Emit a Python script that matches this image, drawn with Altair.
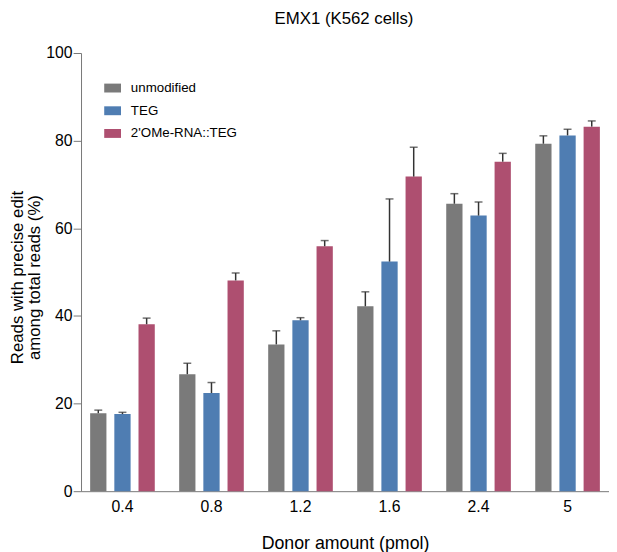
import altair as alt
import pandas as pd

doses = ["0.4", "0.8", "1.2", "1.6", "2.4", "5"]
groups = ["unmodified", "TEG", "2'OMe-RNA::TEG"]
colors = ["#7a7a7a", "#4f7db2", "#ae4f70"]

unmod_mean = [17.8, 26.7, 33.5, 42.2, 65.6, 79.3]
unmod_sd = [0.7, 2.5, 3.1, 3.3, 2.3, 1.8]
teg_mean = [17.6, 22.4, 39.0, 52.4, 62.9, 81.2]
teg_sd = [0.4, 2.4, 0.6, 14.3, 3.1, 1.4]
ome_mean = [38.1, 48.1, 55.9, 71.8, 75.2, 83.2]
ome_sd = [1.4, 1.7, 1.3, 6.7, 1.9, 1.3]

rows = []
for g, means, sds in zip(groups, [unmod_mean, teg_mean, ome_mean], [unmod_sd, teg_sd, ome_sd]):
    for d, m, s in zip(doses, means, sds):
        rows.append({"dose": d, "group": g, "mean": m, "sd": s})
df = pd.DataFrame(rows)

FONT = "Liberation Sans"

base = alt.Chart(df).transform_calculate(
    upper="datum.mean + datum.sd"
).encode(
    x=alt.X(
        "dose:N",
        sort=doses,
        scale=alt.Scale(paddingInner=0.274, paddingOuter=0.1025),
        axis=alt.Axis(
            title="Donor amount (pmol)",
            labelAngle=0,
            ticks=False,
            labelFontSize=16,
            labelPadding=8,
            labelColor="#000000",
            titleFontSize=18,
            titleFontWeight="normal",
            titleColor="#000000",
            titlePadding=20,
            domainColor="#777777",
            domainWidth=1,
        ),
    ),
    xOffset=alt.XOffset("group:N", sort=groups, scale=alt.Scale(paddingInner=0.327, paddingOuter=0)),
)

bars = base.mark_bar().encode(
    y=alt.Y(
        "mean:Q",
        scale=alt.Scale(domain=[0, 100]),
        axis=alt.Axis(
            title=["Reads with precise edit", "among total reads (%)"],
            values=[0, 20, 40, 60, 80, 100],
            grid=False,
            tickSize=8,
            tickColor="#777777",
            domainColor="#777777",
            labelFontSize=16,
            labelPadding=1,
            labelColor="#000000",
            titleFontSize=17,
            titleFontWeight="normal",
            titleColor="#000000",
            titleLineHeight=17,
            titleX=-72,
            titleY=227,
            titleBaseline="top",
            titleAlign="center",
        ),
    ),
    color=alt.Color(
        "group:N",
        sort=groups,
        scale=alt.Scale(domain=groups, range=colors),
        legend=alt.Legend(
            title=None,
            orient="none",
            legendX=23.5,
            legendY=27,
            symbolType="M-1,-0.53H1V0.53H-1Z",
            symbolSize=289,
            symbolStrokeWidth=0,
            labelFontSize=13.5,
            labelColor="#000000",
            labelOffset=10,
            rowPadding=8,
            padding=0,
        ),
    ),
)

rules = base.mark_rule(color="#333333", strokeWidth=1.5).encode(
    y="mean:Q", y2="upper:Q"
)
caps = base.mark_tick(color="#333333", thickness=1.5, size=8).encode(y="upper:Q")

chart = (
    alt.layer(bars, rules, caps)
    .properties(
        width=535,
        height=444,
        autosize=alt.AutoSizeParams(type="none"),
        padding={"left": 74, "top": 42, "right": 0, "bottom": 58},
        title=alt.TitleParams(
            "EMX1 (K562 cells)",
            fontSize=17,
            fontWeight="normal",
            color="#000000",
            anchor="middle",
            baseline="alphabetic",
            dx=-1,
            offset=4,
        ),
    )
    .configure(font=FONT)
    .configure_view(stroke=None)
)

chart.save("out.html", embed_options={"renderer": "svg", "actions": False})
